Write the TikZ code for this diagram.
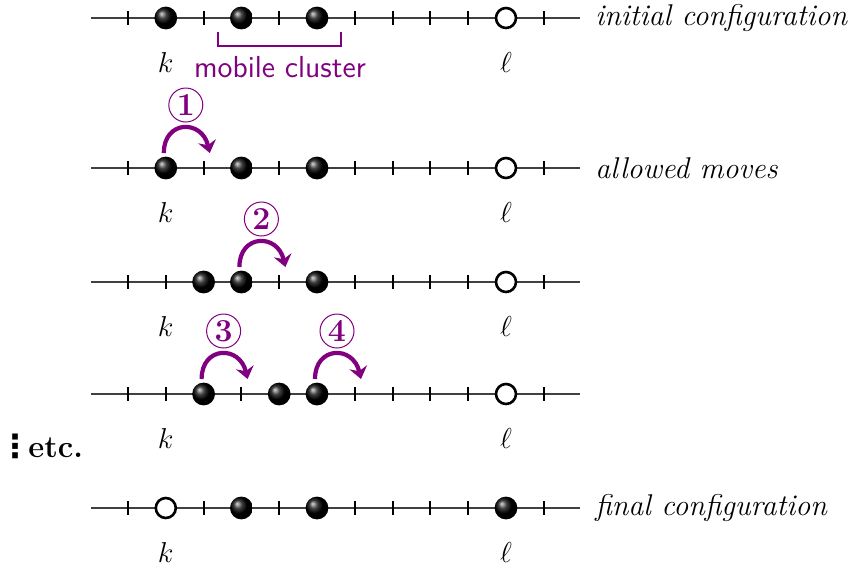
\documentclass[tikz,border=0pt]{standalone}
\usepackage{fontspec}
\newfontfamily\dejavu{DejaVu Sans}
\usetikzlibrary{arrows.meta}
\definecolor{mypurple}{RGB}{128,0,128}
\begin{document}
\begin{tikzpicture}[x=0.5pt,y=-0.5pt,
  axis/.style={draw=black!75, line width=0.65pt},
  tickmark/.style={draw=black, line width=1pt},
  ballnode/.style={circle, inner sep=0pt, minimum size=11.4pt, shading=ball, ball color=black},
  emptynode/.style={circle, inner sep=0pt, minimum size=10pt, draw=black, line width=1.3pt, fill=white},
  sitelabel/.style={anchor=base, font=\fontsize{15.5}{18}\selectfont, inner sep=0pt},
  rowlabel/.style={anchor=west, font=\fontsize{15}{18}\selectfont\itshape, inner sep=0pt},
  movearrow/.style={draw=mypurple, line width=2.1pt, -{Stealth[length=6pt,width=9pt,inset=2pt]}},
  movenum/.style={circle, draw=mypurple, line width=0.5pt, minimum size=17pt, inner sep=0pt, text=mypurple, font=\fontsize{16}{18}\selectfont\bfseries},
  bracketline/.style={draw=mypurple, line width=1pt},
]
\useasboundingbox (0,0) rectangle (858,569);

% axes and ticks
\foreach \r/\y in {1/18,2/168,3/282,4/394,5/508}{
  \coordinate (L\r) at (91,\y);
  \coordinate (R\r) at (580,\y);
  \draw[axis] (L\r) -- (R\r);
  \foreach \i in {0,...,11}{
    \draw[tickmark] ({128+37.8*\i},\y-7) -- ++(0,14);
  }
  \node[sitelabel] (k\r) at ({128+37.8*1},\y+54) {$k$};
  \node[sitelabel] (l\r) at ({128+37.8*10},\y+54) {$\ell$};
}

% row 1
\node[ballnode] (b1a) at ({128+37.8*1},18) {};
\node[ballnode] (b1b) at ({128+37.8*3},18) {};
\node[ballnode] (b1c) at ({128+37.8*5},18) {};
\node[emptynode] (e1) at ({128+37.8*10},18) {};
\node[rowlabel] (t1) at (595,18) {initial configuration};
\coordinate (c1a) at (218,32);
\coordinate (c1b) at (218,46);
\coordinate (c1c) at (341,46);
\coordinate (c1d) at (341,32);
\draw[bracketline] (c1a) -- (c1b) -- (c1c) -- (c1d);
\node[anchor=base, inner sep=0pt, text=mypurple, font=\fontsize{15.2}{18}\selectfont\sffamily] (mc) at (280,77) {mobile cluster};

% row 2
\node[ballnode] (b2a) at ({128+37.8*1},168) {};
\node[ballnode] (b2b) at ({128+37.8*3},168) {};
\node[ballnode] (b2c) at ({128+37.8*5},168) {};
\node[emptynode] (e2) at ({128+37.8*10},168) {};
\node[rowlabel] (t2) at (595,168) {allowed moves};
\coordinate (s1) at ([shift={(-2,-15)}]b2a.center);
\coordinate (f1) at ([shift={(44,-15)}]b2a.center);
\draw[movearrow] (s1) .. controls +(0,-33) and +(-8,-34) .. (f1);
\node[movenum] (n1) at ([shift={(20,-63)}]b2a.center) {1};

% row 3
\node[ballnode] (b3a) at ({128+37.8*2},282) {};
\node[ballnode] (b3b) at ({128+37.8*3},282) {};
\node[ballnode] (b3c) at ({128+37.8*5},282) {};
\node[emptynode] (e3) at ({128+37.8*10},282) {};
\coordinate (s2) at ([shift={(-2,-15)}]b3b.center);
\coordinate (f2) at ([shift={(44,-15)}]b3b.center);
\draw[movearrow] (s2) .. controls +(0,-33) and +(-8,-34) .. (f2);
\node[movenum] (n2) at ([shift={(20,-63)}]b3b.center) {2};

% row 4
\node[ballnode] (b4a) at ({128+37.8*2},394) {};
\node[ballnode] (b4b) at ({128+37.8*4},394) {};
\node[ballnode] (b4c) at ({128+37.8*5},394) {};
\node[emptynode] (e4) at ({128+37.8*10},394) {};
\coordinate (s3) at ([shift={(-2,-15)}]b4a.center);
\coordinate (f3) at ([shift={(44,-15)}]b4a.center);
\draw[movearrow] (s3) .. controls +(0,-33) and +(-8,-34) .. (f3);
\node[movenum] (n3) at ([shift={(20,-63)}]b4a.center) {3};
\coordinate (s4) at ([shift={(-2,-15)}]b4c.center);
\coordinate (f4) at ([shift={(44,-15)}]b4c.center);
\draw[movearrow] (s4) .. controls +(0,-33) and +(-8,-34) .. (f4);
\node[movenum] (n4) at ([shift={(20,-63)}]b4c.center) {4};
\node[inner sep=0pt, font=\fontsize{16}{18}\selectfont\dejavu\bfseries] (dots) at (15,446) {⋮};
\node[anchor=base west, inner sep=0pt, font=\fontsize{15.5}{18}\selectfont\bfseries] (etcnote) at (28,457) {etc.};

% row 5
\node[emptynode] (e5) at ({128+37.8*1},508) {};
\node[ballnode] (b5a) at ({128+37.8*3},508) {};
\node[ballnode] (b5b) at ({128+37.8*5},508) {};
\node[ballnode] (b5c) at ({128+37.8*10},508) {};
\node[rowlabel] (t5) at (595,508) {final configuration};
\end{tikzpicture}
\end{document}
